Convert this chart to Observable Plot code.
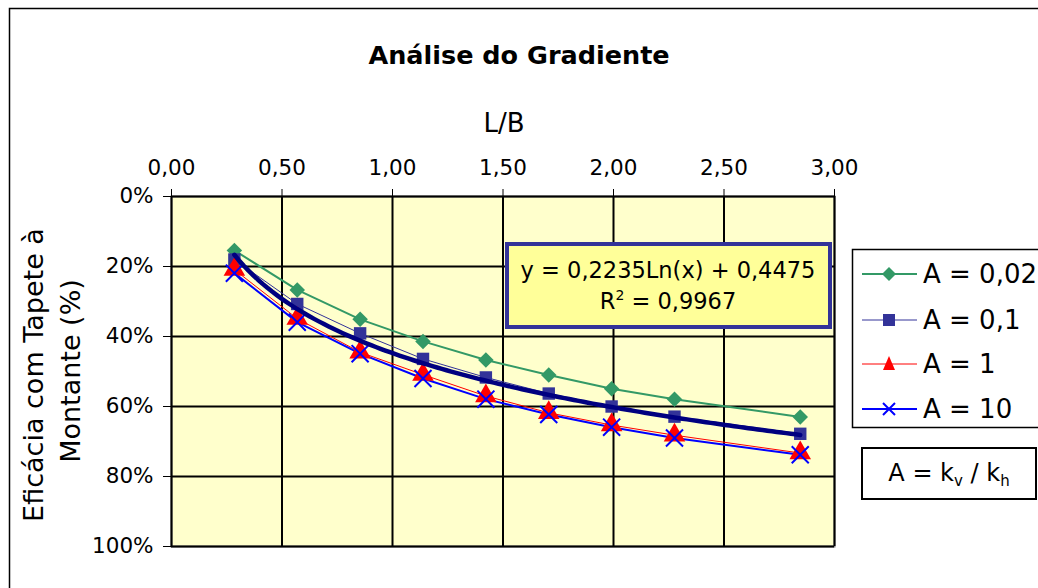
<!DOCTYPE html>
<html>
<head>
<meta charset="utf-8">
<script src="https://cdn.jsdelivr.net/npm/d3@7"></script>
<script src="https://cdn.jsdelivr.net/npm/@observablehq/plot@0.6"></script>
<style>
  html, body { margin: 0; padding: 0; background: #fff; }
  svg { display: block; }
</style>
</head>
<body>
<div id="chart"></div>
<script>
// ---- data ----
const LB = [0.2845, 0.569, 0.8535, 1.138, 1.4225, 1.707, 1.9915, 2.276, 2.845];
const A002 = [15.4, 26.7, 35.1, 41.4, 46.7, 51.0, 54.9, 57.9, 63.0];
const A01  = [18.0, 30.7, 39.1, 46.4, 51.7, 56.3, 60.0, 62.9, 67.8];
const A1   = [20.9, 34.9, 44.5, 50.9, 57.0, 61.8, 65.3, 68.2, 73.3];
const A10  = [21.9, 35.9, 44.9, 52.0, 57.9, 62.3, 65.9, 69.0, 73.8];
const seriesNames = ["A = 0,02", "A = 0,1", "A = 1", "A = 10"];
const xTicks = [0, 0.5, 1, 1.5, 2, 2.5, 3];
const yTicks = [0, 20, 40, 60, 80, 100];
// logarithmic trendline of A = 0,1 as printed on the chart: y = a·Ln(x) + b
const trendCoef = [0.2235, 0.4475];
const trendText = ["y = 0,2235Ln(x) + 0,4475", "R", "2", " = 0,9967"];

const colors = ["#339966", "#333399", "#FF0000", "#0000FF"];
const widths = [2, 1, 1, 2];

const toRows = (vals) => LB.map((x, i) => ({x, y: vals[i]}));
const rows = [A002, A01, A1, A10].map(toRows);
const nT = 120;
const trendRows = d3.range(nT + 1).map(i => {
  const x = LB[0] + (LB[LB.length - 1] - LB[0]) * i / nT;
  return {x, y: 100 * (trendCoef[0] * Math.log(x) + trendCoef[1])};
});

const fmtX = d => d3.format(".2f")(d).replace(".", ",");
const FONT = "DejaVu Sans, Verdana, sans-serif";

const chart = Plot.plot({
  width: 1038,
  height: 588,
  marginLeft: 171,
  marginRight: 204,
  marginTop: 196,
  marginBottom: 42,
  style: {fontFamily: FONT, fontSize: "21px", color: "#000", background: "#fff", overflow: "visible"},
  x: {domain: [0, 3], axis: null},
  y: {domain: [0, 100], reverse: true, axis: null},
  marks: [
    Plot.frame({fill: "#FFFFCC", stroke: "#808080", strokeWidth: 2}),
    Plot.gridX(xTicks, {stroke: "#000", strokeOpacity: 1, strokeWidth: 2}),
    Plot.gridY(yTicks, {stroke: "#000", strokeOpacity: 1, strokeWidth: 2}),
    Plot.axisX(xTicks, {anchor: "top", tickSize: 8, tickPadding: 14, tickFormat: fmtX, label: null, fontSize: 21.5, stroke: "#000"}),
    Plot.axisY(yTicks, {anchor: "left", tickSize: 8, tickPadding: 10, tickFormat: d => d + "%", label: null, fontSize: 21.5, stroke: "#000"}),
    // series lines
    ...rows.map((r, i) => Plot.line(r, {x: "x", y: "y", stroke: colors[i], strokeWidth: widths[i]})),
    // markers
    Plot.dot(rows[0], {x: "x", y: "y", symbol: "diamond2", r: 7, fill: colors[0], stroke: "none"}),
    Plot.dot(rows[1], {x: "x", y: "y", symbol: "square", r: 7, fill: colors[1], stroke: "none"}),
    Plot.dot(rows[2], {x: "x", y: "y", symbol: "triangle", r: 8, fill: colors[2], stroke: "none"}),
    Plot.dot(rows[3], {x: "x", y: "y", symbol: "times", r: 7.8, fill: "none", stroke: colors[3], strokeWidth: 2}),
    // trendline
    Plot.line(trendRows, {x: "x", y: "y", stroke: "#000080", strokeWidth: 4.5})
  ]
});
document.getElementById("chart").appendChild(chart);

// ---- annotations (title, axis titles, equation, legend) ----
const svg = d3.select(chart);
svg.attr("font-family", FONT);

// outer chart frame
svg.append("rect").attr("x", 9.5).attr("y", 8.5).attr("width", 1100).attr("height", 700)
  .attr("fill", "none").attr("stroke", "#000").attr("stroke-width", 1.5);

svg.append("text").attr("x", 519).attr("y", 64).attr("text-anchor", "middle")
  .attr("font-size", 25.5).attr("font-weight", "bold").text("Análise do Gradiente");

svg.append("text").attr("x", 504).attr("y", 132).attr("text-anchor", "middle")
  .attr("font-size", 26).text("L/B");

svg.append("text").attr("transform", "translate(43,375) rotate(-90)").attr("text-anchor", "middle")
  .attr("font-size", 27).text("Eficácia com Tapete à");
svg.append("text").attr("transform", "translate(80,371) rotate(-90)").attr("text-anchor", "middle")
  .attr("font-size", 27).text("Montante (%)");

// equation box
svg.append("rect").attr("x", 507).attr("y", 244).attr("width", 323).attr("height", 83)
  .attr("fill", "#FFFF99").attr("stroke", "#333399").attr("stroke-width", 4);
svg.append("text").attr("x", 668).attr("y", 278).attr("text-anchor", "middle")
  .attr("font-size", 22.5).text(trendText[0]);
const r2 = svg.append("text").attr("x", 668).attr("y", 309).attr("text-anchor", "middle").attr("font-size", 22.5);
r2.append("tspan").text(trendText[1]);
r2.append("tspan").attr("font-size", 14).attr("dy", -9).text(trendText[2]);
r2.append("tspan").attr("dy", 9).text(trendText[3]);

// legend
svg.append("rect").attr("x", 852.5).attr("y", 249.5).attr("width", 300).attr("height", 178)
  .attr("fill", "#fff").attr("stroke", "#000").attr("stroke-width", 1.5);
const legY = [274, 320, 364, 409];
seriesNames.forEach((name, i) => {
  const y = legY[i];
  svg.append("line").attr("x1", 862).attr("x2", 917).attr("y1", y).attr("y2", y)
    .attr("stroke", colors[i]).attr("stroke-width", widths[i]);
  const cx = 889;
  if (i === 0) {
    svg.append("path").attr("d", `M${cx},${y-7}L${cx+7},${y}L${cx},${y+7}L${cx-7},${y}Z`).attr("fill", colors[0]);
  } else if (i === 1) {
    svg.append("rect").attr("x", cx - 6).attr("y", y - 6).attr("width", 12).attr("height", 12).attr("fill", colors[1]);
  } else if (i === 2) {
    svg.append("path").attr("d", `M${cx},${y-8}L${cx+6},${y+6}L${cx-6},${y+6}Z`).attr("fill", colors[2]);
  } else {
    svg.append("path").attr("d", `M${cx-6},${y-6}L${cx+6},${y+6}M${cx-6},${y+6}L${cx+6},${y-6}`)
      .attr("stroke", colors[3]).attr("stroke-width", 2).attr("fill", "none");
  }
  svg.append("text").attr("x", 923).attr("y", y + 9).attr("text-anchor", "start")
    .attr("font-size", 26).text(name);
});

// A = kv / kh box
svg.append("rect").attr("x", 862).attr("y", 448).attr("width", 174).attr("height", 51)
  .attr("fill", "#fff").attr("stroke", "#000").attr("stroke-width", 2);
const kt = svg.append("text").attr("x", 949).attr("y", 481).attr("text-anchor", "middle").attr("font-size", 24);
kt.append("tspan").text("A = k");
kt.append("tspan").attr("font-size", 15).attr("dy", 5).text("v");
kt.append("tspan").attr("dy", -5).text(" / k");
kt.append("tspan").attr("font-size", 15).attr("dy", 5).text("h");
</script>
</body>
</html>
